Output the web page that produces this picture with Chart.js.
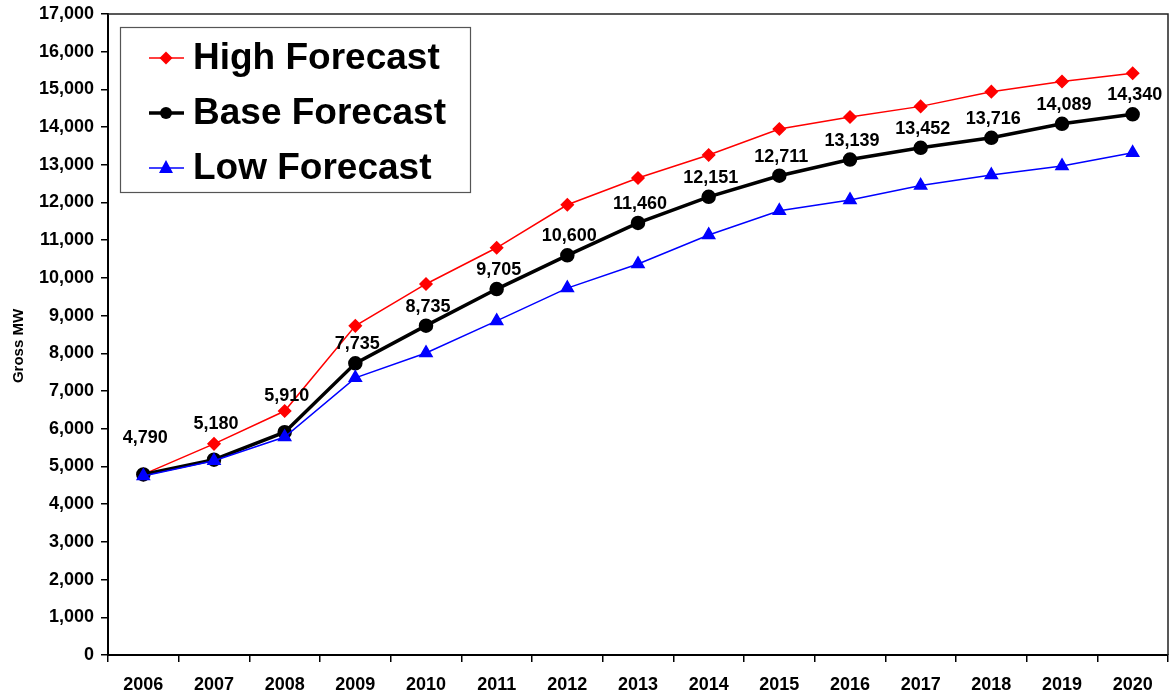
<!DOCTYPE html>
<html>
<head>
<meta charset="utf-8">
<script src="https://cdn.jsdelivr.net/npm/chart.js@4/dist/chart.umd.min.js"></script>
<style>
  html, body { margin: 0; padding: 0; background: #fff; overflow: hidden; }
  body { width: 1173px; height: 700px; }
  canvas { display: block; }
</style>
</head>
<body>
<canvas id="myChart" width="1177" height="700"></canvas>
<script>
const years = ['2006', '2007', '2008', '2009', '2010', '2011', '2012', '2013', '2014', '2015', '2016', '2017', '2018', '2019', '2020'];
const highForecast = [4790, 5600, 6470, 8730, 9840, 10800, 11940, 12650, 13260, 13950, 14270, 14550, 14940, 15210, 15430];
const baseForecast = [4790, 5180, 5910, 7735, 8735, 9705, 10600, 11460, 12151, 12711, 13139, 13452, 13716, 14089, 14340];
const lowForecast = [4750, 5150, 5780, 7350, 8010, 8860, 9730, 10370, 11140, 11780, 12070, 12450, 12730, 12970, 13320];
const yTicks = { min: 0, max: 17000, step: 1000 };
const yTitle = 'Gross MW';

const FONT = 'Arial, "Liberation Sans", sans-serif';

// value labels above the base forecast points
const baseLabels = {
  id: 'baseLabels',
  afterDatasetsDraw(chart) {
    const ctx = chart.ctx;
    const meta = chart.getDatasetMeta(1);
    ctx.save();
    ctx.font = 'bold 18px ' + FONT;
    ctx.fillStyle = '#000';
    ctx.textAlign = 'center';
    ctx.textBaseline = 'middle';
    meta.data.forEach((pt, i) => {
      const lift = i < 3 ? 36 : 19;
      ctx.fillText(baseForecast[i].toLocaleString('en-US'), pt.x + 2, pt.y - lift);
    });
    ctx.restore();
  }
};

// plot frame (top/right), rotated axis title and the boxed legend
const frameAndLegend = {
  id: 'frameAndLegend',
  afterDraw(chart) {
    const ctx = chart.ctx;
    const a = chart.chartArea;
    ctx.save();
    ctx.strokeStyle = '#222';
    ctx.lineWidth = 1.5;
    ctx.beginPath();
    ctx.moveTo(a.left, a.top);
    ctx.lineTo(a.right, a.top);
    ctx.lineTo(a.right, a.bottom);
    ctx.stroke();

    ctx.save();
    ctx.translate(19, 346);
    ctx.rotate(-Math.PI / 2);
    ctx.font = 'bold 15px ' + FONT;
    ctx.fillStyle = '#000';
    ctx.textAlign = 'center';
    ctx.textBaseline = 'middle';
    ctx.fillText(yTitle, 0, 0);
    ctx.restore();

    const bx = 120, by = 27, bw = 350, bh = 165;
    ctx.fillStyle = '#fff';
    ctx.fillRect(bx, by, bw, bh);
    ctx.strokeStyle = '#555';
    ctx.lineWidth = 1.2;
    ctx.strokeRect(bx + 0.5, by + 0.5, bw, bh);

    ctx.font = 'bold 37px ' + FONT;
    ctx.textBaseline = 'middle';
    ctx.textAlign = 'left';
    chart.data.datasets.forEach((ds, i) => {
      const y = 58 + i * 55;
      ctx.strokeStyle = ds.borderColor;
      ctx.lineWidth = ds.borderWidth;
      ctx.beginPath();
      ctx.moveTo(149, y);
      ctx.lineTo(184, y);
      ctx.stroke();
      ctx.fillStyle = ds.pointBackgroundColor;
      ctx.beginPath();
      if (ds.pointStyle === 'rectRot') {
        const r = 6.5;
        ctx.moveTo(166, y - r); ctx.lineTo(166 + r, y); ctx.lineTo(166, y + r); ctx.lineTo(166 - r, y);
      } else if (ds.pointStyle === 'triangle') {
        ctx.moveTo(166, y - 8); ctx.lineTo(173, y + 5); ctx.lineTo(159, y + 5);
      } else {
        ctx.arc(166, y, 6, 0, Math.PI * 2);
      }
      ctx.closePath();
      ctx.fill();
      ctx.fillStyle = '#000';
      ctx.fillText(ds.label, 193, y + 1);
    });
    ctx.restore();
  }
};

// drop the extra room the scales reserve for their end labels
function trimPadding(scale) {
  scale.paddingTop = 0;
  scale.paddingBottom = 0;
  scale.paddingLeft = 0;
  scale.paddingRight = 0;
}

const ctx = document.getElementById('myChart').getContext('2d');
new Chart(ctx, {
  type: 'line',
  data: {
    labels: years,
    datasets: [
      {
        label: 'High Forecast',
        data: highForecast,
        order: 3,
        borderColor: '#ff0000',
        backgroundColor: '#ff0000',
        pointBackgroundColor: '#ff0000',
        pointBorderColor: '#ff0000',
        borderWidth: 1.5,
        pointStyle: 'rectRot',
        pointRadius: 6,
        tension: 0
      },
      {
        label: 'Base Forecast',
        data: baseForecast,
        order: 2,
        borderColor: '#000000',
        backgroundColor: '#000000',
        pointBackgroundColor: '#000000',
        pointBorderColor: '#000000',
        borderWidth: 3.5,
        pointStyle: 'circle',
        pointRadius: 5.5,
        tension: 0
      },
      {
        label: 'Low Forecast',
        data: lowForecast,
        order: 1,
        borderColor: '#0000ff',
        backgroundColor: '#0000ff',
        pointBackgroundColor: '#0000ff',
        pointBorderColor: '#0000ff',
        borderWidth: 1.5,
        pointStyle: 'triangle',
        pointRadius: 7,
        tension: 0
      }
    ]
  },
  options: {
    responsive: false,
    animation: false,
    layout: { padding: { top: 14, right: 5, left: 0, bottom: 0 } },
    plugins: {
      legend: { display: false },
      tooltip: { enabled: false }
    },
    scales: {
      x: {
        offset: true,
        grid: {
          offset: true,
          drawOnChartArea: false,
          drawTicks: true,
          tickLength: 7,
          color: '#000',
          lineWidth: 1.5
        },
        border: { color: '#000', width: 2 },
        ticks: {
          font: { family: FONT, size: 18, weight: 'bold' },
          color: '#000',
          maxRotation: 0,
          padding: 12
        },
        afterFit(scale) { scale.height = 45; trimPadding(scale); }
      },
      y: {
        min: yTicks.min,
        max: yTicks.max,
        grid: {
          drawOnChartArea: false,
          drawTicks: true,
          tickLength: 7,
          color: '#000',
          lineWidth: 1.5
        },
        border: { color: '#000', width: 2 },
        ticks: {
          stepSize: yTicks.step,
          font: { family: FONT, size: 18, weight: 'bold' },
          color: '#000',
          padding: 7,
          callback: v => v.toLocaleString('en-US')
        },
        afterFit(scale) { scale.width = 108; trimPadding(scale); }
      }
    }
  },
  plugins: [baseLabels, frameAndLegend]
});
</script>
</body>
</html>
